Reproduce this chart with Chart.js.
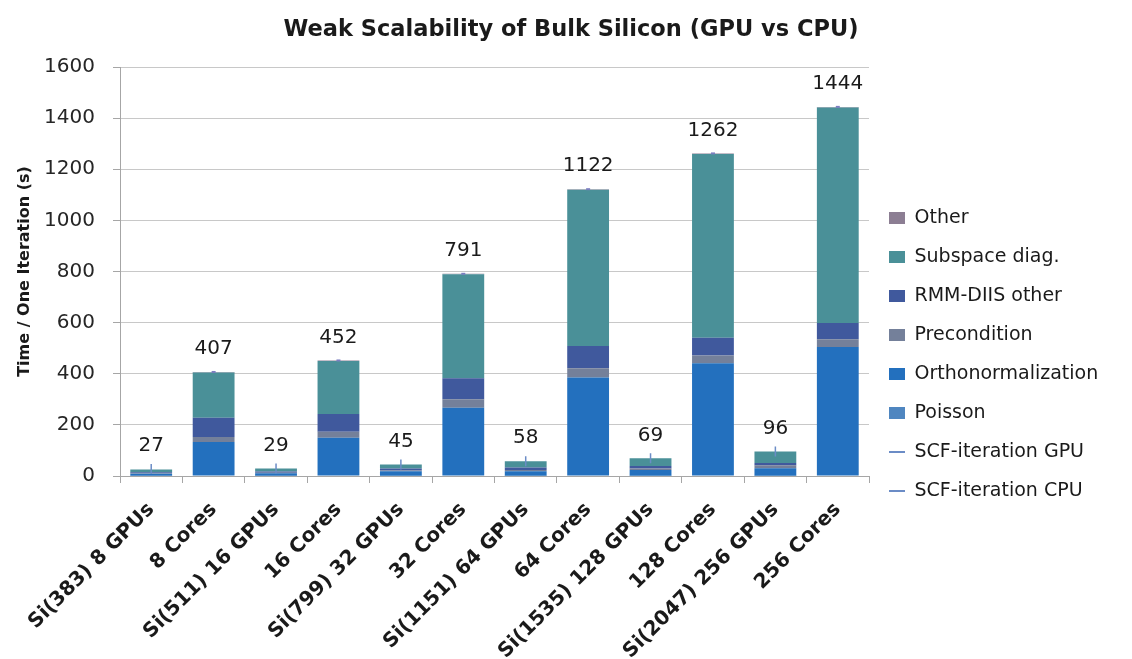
<!DOCTYPE html>
<html><head><meta charset="utf-8">
<script src="https://cdn.jsdelivr.net/npm/chart.js@4/dist/chart.umd.min.js"></script>
<style>html,body{margin:0;padding:0;background:#fff;} #wrap{width:1132px;height:659px;}</style>
</head><body><div id="wrap"><canvas id="c" width="1132" height="659"></canvas></div>
<script>
const categories = ['Si(383) 8 GPUs','8 Cores','Si(511) 16 GPUs','16 Cores','Si(799) 32 GPUs','32 Cores','Si(1151) 64 GPUs','64 Cores','Si(1535) 128 GPUs','128 Cores','Si(2047) 256 GPUs','256 Cores'];
const poisson  = [1, 2, 1, 2, 1, 2, 1, 2, 1, 2, 1, 2];
const ortho    = [8, 131, 10, 148, 18, 265, 18, 383, 22, 439, 29, 503];
const precond  = [2, 20, 2, 23, 3, 33, 4, 37, 6, 30, 12, 30];
const rmm      = [4, 75, 5, 70, 7, 82, 10, 87, 10, 70, 9, 64];
const subspace = [10, 177, 11, 207, 16, 407, 25, 611, 30, 719, 45, 843];
const other    = [0, 2, 0, 2, 0, 2, 0, 2, 0, 2, 0, 2];
const scfGpu   = [27, null, 29, null, 45, null, 58, null, 69, null, 96, null];
const scfCpu   = [null, 407, null, 452, null, 791, null, 1122, null, 1262, null, 1444];
const yTicks = [0, 200, 400, 600, 800, 1000, 1200, 1400, 1600];

const FONT = '"DejaVu Sans", sans-serif';
const legendFontSize = 19, legendPad = 20, legendBoxW = 16;
const legendNames = ['Other','Subspace diag.','RMM-DIIS other','Precondition','Orthonormalization','Poisson','SCF-iteration GPU','SCF-iteration CPU'];
const mctx = document.createElement('canvas').getContext('2d');
mctx.font = legendFontSize + 'px ' + FONT;
const maxText = Math.max(...legendNames.map(t => mctx.measureText(t).width));
const legendWidth = legendPad + legendBoxW + legendFontSize / 2 + maxText + 10;
const legendLeft = 869;
const padRight = Math.max(0, 1132 - legendLeft - legendWidth);

const lineColor = '#6b8cc6';

const valueLabels = {
  id: 'valueLabels',
  afterLayout(chart) {
    // centre the chart title the way the reference does (slightly right of canvas centre)
    const t = chart.titleBlock;
    if (t) { const shift = 571 - (t.left + t.right) / 2; t.left += shift; t.right += shift; }
  },
  afterDatasetsDraw(chart) {
    const ctx = chart.ctx;
    ctx.save();
    ctx.font = '20px ' + FONT;
    ctx.fillStyle = '#1a1a1a';
    ctx.textAlign = 'center';
    ctx.textBaseline = 'middle';
    [6, 7].forEach(di => {
      const meta = chart.getDatasetMeta(di);
      const data = chart.data.datasets[di].data;
      meta.data.forEach((pt, i) => {
        const v = data[i];
        if (v == null) return;
        ctx.fillText(String(v), pt.x, pt.y - 23);
      });
    });
    ctx.restore();
  }
};

function rank(i) { return i < 6 ? 5 - i : i; }

new Chart(document.getElementById('c'), {
  type: 'bar',
  data: {
    labels: categories,
    datasets: [
      { label: 'Poisson', data: poisson, backgroundColor: '#4f86c0', stack: 'bars', order: 1 },
      { label: 'Orthonormalization', data: ortho, backgroundColor: '#2370be', stack: 'bars', order: 1 },
      { label: 'Precondition', data: precond, backgroundColor: '#74809a', stack: 'bars', order: 1 },
      { label: 'RMM-DIIS other', data: rmm, backgroundColor: '#40599d', stack: 'bars', order: 1 },
      { label: 'Subspace diag.', data: subspace, backgroundColor: '#4a9098', stack: 'bars', order: 1 },
      { label: 'Other', data: other, backgroundColor: '#8c7e93', stack: 'bars', order: 1 },
      { type: 'line', label: 'SCF-iteration GPU', data: scfGpu, stack: 'g', order: 0, showLine: false,
        borderColor: lineColor, backgroundColor: lineColor, borderWidth: 2,
        pointStyle: 'line', pointRotation: 90, pointRadius: 5, pointBorderWidth: 1.5, pointBorderColor: lineColor },
      { type: 'line', label: 'SCF-iteration CPU', data: scfCpu, stack: 'c', order: 0, showLine: false,
        borderColor: lineColor, backgroundColor: lineColor, borderWidth: 2,
        pointStyle: 'line', pointRotation: 0, pointRadius: 2, pointBorderWidth: 2, pointBorderColor: '#7b7fc0' }
    ]
  },
  options: {
    responsive: false, animation: false, events: [], devicePixelRatio: 1,
    datasets: { bar: { categoryPercentage: 1, barPercentage: 0.67, borderWidth: 0 } },
    layout: { padding: { left: 0, right: padRight, top: 0, bottom: 0 } },
    plugins: {
      title: { display: true, text: 'Weak Scalability of Bulk Silicon (GPU vs CPU)',
        font: { family: FONT, size: 22.5, weight: 'bold' }, color: '#1a1a1a', padding: { top: 17, bottom: 23 } },
      legend: {
        position: 'right', align: 'center',
        title: { display: true, text: ' ', font: { size: 10 }, padding: { top: 38, bottom: 0 } },
        labels: {
          usePointStyle: true, pointStyleWidth: legendBoxW, boxHeight: 12, padding: legendPad,
          font: { family: FONT, size: legendFontSize }, color: '#1a1a1a',
          generateLabels(chart) {
            const items = Chart.defaults.plugins.legend.labels.generateLabels(chart);
            items.forEach(it => {
              const ds = chart.data.datasets[it.datasetIndex];
              it.rotation = 0;
              if (ds.type === 'line') { it.pointStyle = 'line'; it.lineWidth = 2; it.strokeStyle = lineColor; }
              else { it.pointStyle = 'rect'; it.lineWidth = 0; it.fillStyle = ds.backgroundColor; }
            });
            return items;
          },
          sort: (a, b) => rank(a.datasetIndex) - rank(b.datasetIndex)
        }
      },
      tooltip: { enabled: false }
    },
    scales: {
      x: {
        stacked: true,
        grid: { display: true, drawOnChartArea: false, drawTicks: true, tickLength: 7, color: '#a6a6a6', offset: true },
        border: { color: '#a6a6a6' },
        ticks: { autoSkip: false, maxRotation: 45, minRotation: 45, padding: 15,
          font: { family: FONT, size: 20, weight: 'bold' }, color: '#1a1a1a' },
        afterFit: s => { s.height = 183; }
      },
      y: {
        stacked: true, min: 0, max: 1600,
        afterBuildTicks: s => { s.ticks = yTicks.map(v => ({ value: v })); },
        ticks: { padding: 18, font: { family: FONT, size: 20 }, color: '#262626', callback: v => String(v) },
        grid: { color: '#c8c8c8', tickLength: 7, tickColor: '#a6a6a6' },
        border: { color: '#a6a6a6' },
        title: { display: true, text: 'Time / One Iteration (s)', font: { family: FONT, size: 16, weight: 'bold' },
          color: '#1a1a1a', padding: { top: 15, bottom: 0 } },
        afterFit: s => { s.width = 120; }
      }
    }
  },
  plugins: [valueLabels]
});
</script>
</body></html>
